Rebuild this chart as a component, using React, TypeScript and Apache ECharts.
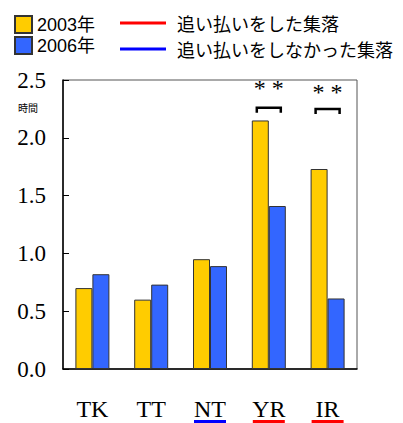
import React, { useEffect, useRef } from "react";
import * as echarts from "echarts";

const categories = ["TK", "TT", "NT", "YR", "IR"];
const values2003 = [0.7, 0.6, 0.95, 2.15, 1.73];
const values2006 = [0.82, 0.73, 0.89, 1.41, 0.61];
const seriesNames = ["2003年", "2006年"];
const groupNames = ["追い払いをした集落", "追い払いをしなかった集落"];
// which categories are underlined, by group (0 = red/追い払いをした, 1 = blue/しなかった)
const underlined = [
  { cat: "NT", group: 1 },
  { cat: "YR", group: 0 },
  { cat: "IR", group: 0 },
];
const sigMarks = [
  { cat: "YR", bracket: 2.26, stars: 2.43 },
  { cat: "IR", bracket: 2.25, stars: 2.4 },
];
const yTicks = { min: 0, max: 2.5, interval: 0.5 };

const YELLOW = "#FFCC00";
const BLUE_BAR = "#3366FF";
const RED = "#FF0000";
const BLUE_LINE = "#0000FF";
const SERIF = "'Liberation Serif', 'DejaVu Serif', serif";
const SANS = "'Noto Sans CJK JP', 'Noto Sans', sans-serif";
const LEGEND_FONT = "'Liberation Sans', 'Noto Sans CJK JP', sans-serif";

export default function App() {
  const ref = useRef<HTMLDivElement>(null);
  useEffect(() => {
    if (!ref.current) return;
    const chart = echarts.init(ref.current, undefined, { renderer: "svg" });
    chart.setOption({
      animation: false,
      backgroundColor: "#fff",
      grid: {
        left: 63,
        right: 46,
        top: 80,
        bottom: 54,
        show: true,
        borderColor: "#555",
        borderWidth: 1,
        backgroundColor: "transparent",
      },
      legend: [
        {
          data: seriesNames,
          orient: "vertical",
          left: 9,
          top: 10,
          itemWidth: 17,
          itemHeight: 17,
          itemGap: 2,
          icon: "rect",
          textStyle: { fontSize: 18, lineHeight: 18, fontFamily: LEGEND_FONT, color: "#000" },
          selectedMode: false,
        },
        {
          data: groupNames,
          orient: "vertical",
          left: 115,
          top: 8,
          itemWidth: 46,
          itemHeight: 3,
          itemGap: 6,
          icon: "rect",
          textStyle: { fontSize: 18, lineHeight: 20, fontFamily: SANS, color: "#000", padding: [0, 0, 0, 6] },
          selectedMode: false,
        },
      ],
      xAxis: {
        type: "category",
        data: categories,
        axisLine: { lineStyle: { color: "#000", width: 1.5 } },
        axisTick: { inside: true, length: 9, lineStyle: { color: "#000" } },
        axisLabel: {
          fontFamily: SERIF,
          fontSize: 24,
          color: "#000",
          margin: 28,
        },
      },
      yAxis: {
        type: "value",
        min: yTicks.min,
        max: yTicks.max,
        interval: yTicks.interval,
        splitLine: { show: false },
        axisLine: { show: true, lineStyle: { color: "#000", width: 1.5 } },
        axisTick: { show: true, inside: true, length: 6, lineStyle: { color: "#000" } },
        axisLabel: {
          fontFamily: SERIF,
          fontSize: 23,
          color: "#000",
          margin: 17,
          formatter: (v: number) => v.toFixed(1),
        },
      },
      series: [
        {
          name: seriesNames[0],
          type: "bar",
          data: values2003,
          barWidth: 17,
          barGap: "0%",
          itemStyle: { color: YELLOW, borderColor: "#333", borderWidth: 1 },
        },
        {
          name: seriesNames[1],
          type: "bar",
          data: values2006,
          barWidth: 17,
          barGap: "0%",
          itemStyle: { color: BLUE_BAR, borderColor: "#333", borderWidth: 1 },
        },
        { name: groupNames[0], type: "line", data: [], itemStyle: { color: RED }, lineStyle: { color: RED } },
        { name: groupNames[1], type: "line", data: [], itemStyle: { color: BLUE_LINE }, lineStyle: { color: BLUE_LINE } },
      ],
    });

    const graphics: any[] = [
      {
        type: "text",
        left: 18,
        top: 102,
        style: { text: "時間", fontSize: 10, fontFamily: SANS, fill: "#000" },
      },
    ];
    const bottomY = chart.convertToPixel({ yAxisIndex: 0 }, 0) as number;
    underlined.forEach((u) => {
      const cx = chart.convertToPixel({ xAxisIndex: 0 }, u.cat) as number;
      graphics.push({
        type: "rect",
        shape: { x: cx - 16, y: bottomY + 51, width: 32, height: 3 },
        style: { fill: u.group === 0 ? RED : BLUE_LINE },
      });
    });
    sigMarks.forEach((s) => {
      const cx = chart.convertToPixel({ xAxisIndex: 0 }, s.cat) as number;
      const by = chart.convertToPixel({ yAxisIndex: 0 }, s.bracket) as number;
      const sy = chart.convertToPixel({ yAxisIndex: 0 }, s.stars) as number;
      graphics.push({
        type: "polyline",
        shape: {
          points: [
            [cx - 12, by + 5],
            [cx - 12, by],
            [cx + 12, by],
            [cx + 12, by + 5],
          ],
        },
        style: { stroke: "#000", lineWidth: 2.5, fill: null },
      });
      graphics.push({
        type: "text",
        x: cx,
        y: sy,
        style: {
          text: "* *",
          fontSize: 24,
          fontFamily: SERIF,
          fill: "#000",
          align: "center",
          verticalAlign: "middle",
        },
      });
    });
    chart.setOption({ graphic: graphics });

    return () => chart.dispose();
  }, []);
  return (
    <div
      ref={ref}
      style={{ position: "absolute", left: 0, top: 0, width: 403, height: 423 }}
    />
  );
}
